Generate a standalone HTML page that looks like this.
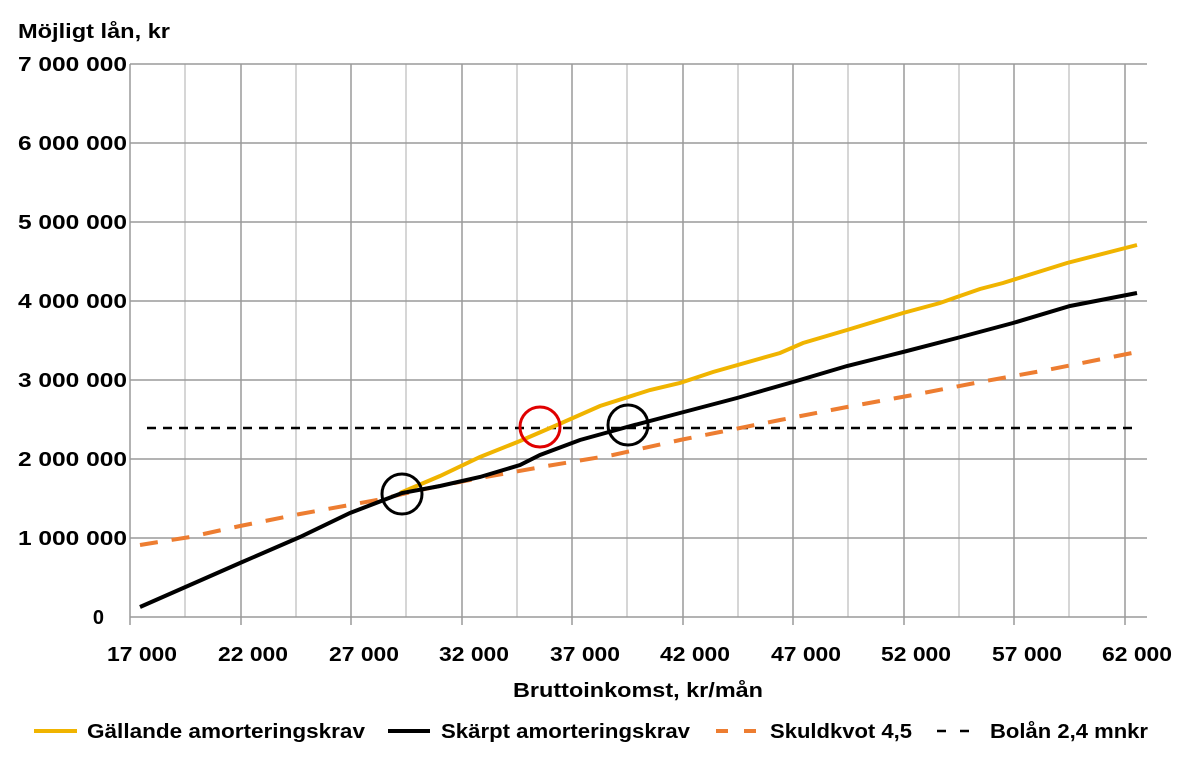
<!DOCTYPE html>
<html><head><meta charset="utf-8"><style>
body{margin:0;background:#fff;}
svg{display:block;font-family:"Liberation Sans",sans-serif;font-weight:bold;}
</style></head><body>
<svg width="1177" height="768" viewBox="0 0 1177 768">
<g stroke="#c8c8c8" stroke-width="1.5">
<line x1="185" y1="64" x2="185" y2="617"/><line x1="296" y1="64" x2="296" y2="617"/><line x1="406" y1="64" x2="406" y2="617"/><line x1="517" y1="64" x2="517" y2="617"/><line x1="627" y1="64" x2="627" y2="617"/><line x1="738" y1="64" x2="738" y2="617"/><line x1="848" y1="64" x2="848" y2="617"/><line x1="959" y1="64" x2="959" y2="617"/><line x1="1069" y1="64" x2="1069" y2="617"/>
</g>
<g stroke="#9a9a9a" stroke-width="1.5">
<line x1="130" y1="64" x2="130" y2="625"/><line x1="241" y1="64" x2="241" y2="625"/><line x1="351" y1="64" x2="351" y2="625"/><line x1="462" y1="64" x2="462" y2="625"/><line x1="572" y1="64" x2="572" y2="625"/><line x1="683" y1="64" x2="683" y2="625"/><line x1="793" y1="64" x2="793" y2="625"/><line x1="904" y1="64" x2="904" y2="625"/><line x1="1014" y1="64" x2="1014" y2="625"/><line x1="1125" y1="64" x2="1125" y2="625"/>
<line x1="130" y1="64" x2="1147" y2="64"/><line x1="130" y1="143" x2="1147" y2="143"/><line x1="130" y1="222" x2="1147" y2="222"/><line x1="130" y1="301" x2="1147" y2="301"/><line x1="130" y1="380" x2="1147" y2="380"/><line x1="130" y1="459" x2="1147" y2="459"/><line x1="130" y1="538" x2="1147" y2="538"/><line x1="130" y1="617" x2="1147" y2="617"/>
</g>
<g font-size="20" text-anchor="end" fill="#000">
<text x="127" y="71" textLength="109" lengthAdjust="spacingAndGlyphs">7 000 000</text><text x="127" y="150" textLength="109" lengthAdjust="spacingAndGlyphs">6 000 000</text><text x="127" y="229" textLength="109" lengthAdjust="spacingAndGlyphs">5 000 000</text><text x="127" y="308" textLength="109" lengthAdjust="spacingAndGlyphs">4 000 000</text><text x="127" y="387" textLength="109" lengthAdjust="spacingAndGlyphs">3 000 000</text><text x="127" y="466" textLength="109" lengthAdjust="spacingAndGlyphs">2 000 000</text><text x="127" y="545" textLength="109" lengthAdjust="spacingAndGlyphs">1 000 000</text><text x="104" y="624">0</text>
</g>
<g font-size="20" text-anchor="middle">
<text x="142" y="661" textLength="70" lengthAdjust="spacingAndGlyphs">17 000</text><text x="253" y="661" textLength="70" lengthAdjust="spacingAndGlyphs">22 000</text><text x="364" y="661" textLength="70" lengthAdjust="spacingAndGlyphs">27 000</text><text x="474" y="661" textLength="70" lengthAdjust="spacingAndGlyphs">32 000</text><text x="585" y="661" textLength="70" lengthAdjust="spacingAndGlyphs">37 000</text><text x="695" y="661" textLength="70" lengthAdjust="spacingAndGlyphs">42 000</text><text x="806" y="661" textLength="70" lengthAdjust="spacingAndGlyphs">47 000</text><text x="916" y="661" textLength="70" lengthAdjust="spacingAndGlyphs">52 000</text><text x="1027" y="661" textLength="70" lengthAdjust="spacingAndGlyphs">57 000</text><text x="1137" y="661" textLength="70" lengthAdjust="spacingAndGlyphs">62 000</text>
<text x="638" y="697" textLength="250" lengthAdjust="spacingAndGlyphs">Bruttoinkomst, kr/mån</text>
</g>
<text x="18" y="38" font-size="20" textLength="152" lengthAdjust="spacingAndGlyphs">Möjligt lån, kr</text>
<line x1="147" y1="428" x2="1136" y2="428" stroke="#000" stroke-width="2.5" stroke-dasharray="9,7"/>
<polyline fill="none" stroke="#f0b400" stroke-width="4" points="400,493 440,476 480,457 520,441 557,425 600,406 650,390 680,383 713,372 780,353 803,343 847,330 903,313 940,303 957,297 980,289 1003,283 1067,263 1137,245"/>
<polyline fill="none" stroke="#ed7d31" stroke-width="4" stroke-dasharray="18,14" points="140,545 190,537 240,526 300,514 377,500 420,490 480,478 547,466 613,455 680,440 720,432 780,420 847,407 913,395 980,382 1047,370 1137,352"/>
<polyline fill="none" stroke="#000" stroke-width="4" points="140,607 190,585 240,563 300,537 350,513 402,493 440,486 480,477 520,465 540,455 580,440 627,427 680,413 737,398 793,382 847,366 903,352 957,338 1013,323 1070,306 1137,293"/>
<g fill="none" stroke-width="3">
<circle cx="402" cy="494" r="20" stroke="#000"/>
<circle cx="628" cy="425" r="20" stroke="#000"/>
<circle cx="540" cy="427" r="20" stroke="#e00000"/>
</g>
<g font-size="20">
<line x1="34" y1="731" x2="77" y2="731" stroke="#f0b400" stroke-width="4"/>
<text x="87" y="738" textLength="278" lengthAdjust="spacingAndGlyphs">Gällande amorteringskrav</text>
<line x1="388" y1="731" x2="430" y2="731" stroke="#000" stroke-width="4"/>
<text x="441" y="738" textLength="249" lengthAdjust="spacingAndGlyphs">Skärpt amorteringskrav</text>
<line x1="716" y1="731" x2="756" y2="731" stroke="#ed7d31" stroke-width="4" stroke-dasharray="12,16"/>
<text x="770" y="738" textLength="142" lengthAdjust="spacingAndGlyphs">Skuldkvot 4,5</text>
<line x1="937" y1="731" x2="972" y2="731" stroke="#000" stroke-width="2.5" stroke-dasharray="9,14"/>
<text x="990" y="738" textLength="158" lengthAdjust="spacingAndGlyphs">Bolån 2,4 mnkr</text>
</g>
</svg>
</body></html>
